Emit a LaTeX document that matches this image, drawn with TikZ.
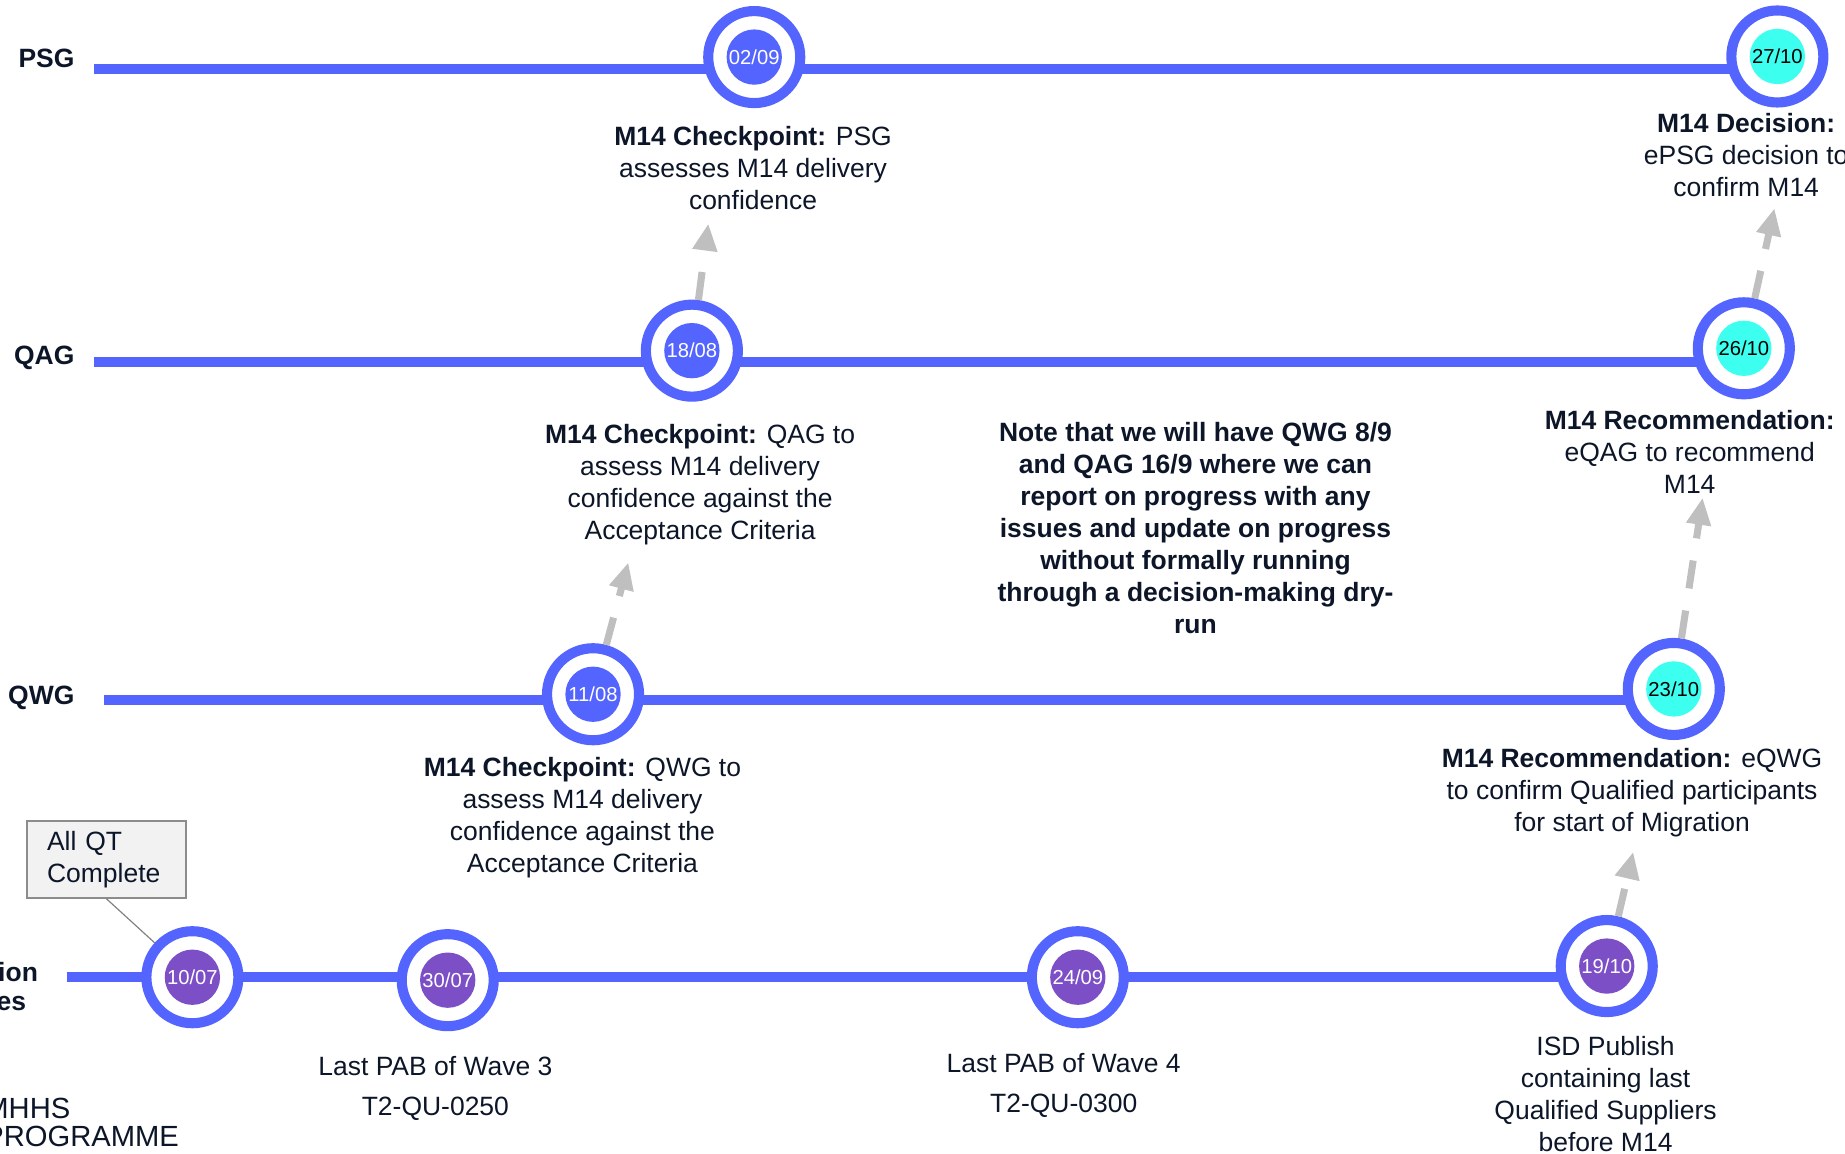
\documentclass[tikz,border=0pt]{standalone}
\usepackage{fontspec}
\setmainfont{Liberation Sans}
\usetikzlibrary{arrows.meta}

\definecolor{lineblue}{RGB}{84,101,255}
\definecolor{dotcyan}{RGB}{60,255,240}
\definecolor{dotpurple}{RGB}{124,79,198}
\definecolor{arrowgrey}{RGB}{191,191,191}
\definecolor{boxgrey}{RGB}{242,242,242}
\definecolor{edgegrey}{RGB}{140,140,140}
\definecolor{inknavy}{RGB}{12,22,40}

\tikzset{every picture/.style={line width=0.75pt}}
\tikzset{
	track/.style={draw=lineblue, line width=4.2pt},
	milestone/.style={circle, draw=lineblue, fill=white, line width=4.3pt, minimum size=39.1pt, inner sep=0pt, font=\fontsize{8.6}{10}\selectfont},
	inner dot/.style={path picture={\fill[#1] (path picture bounding box.center) circle (11.75pt);}},
	ms blue/.style={milestone, inner dot=lineblue, text=white},
	ms cyan/.style={milestone, inner dot=dotcyan, text=black},
	ms purple/.style={milestone, inner dot=dotpurple, text=white},
	caption/.style={text=inknavy, align=center, inner sep=0pt, font=\fontsize{11.25}{13.6}\selectfont},
	rowlabel/.style={caption, anchor=east, font=\fontsize{11.25}{13.6}\selectfont\bfseries},
	feed/.style={draw=arrowgrey, line width=3pt, dash pattern=on 12pt off 9.5pt, -{Triangle[width=10pt,length=11.5pt]}},
	callout/.style={draw=edgegrey, fill=boxgrey, line width=0.85pt, text=inknavy, align=left, inner xsep=8.5pt, text width=50.5pt, minimum height=32.5pt, font=\fontsize{11.25}{13.5}\selectfont},
	calloutline/.style={draw=gray, line width=0.5pt}
}

\begin{document}
\begin{tikzpicture}[x=0.5pt,y=0.5pt,yscale=-1,xscale=1]
	\useasboundingbox (0,0) rectangle (1568,980);

	% Track ends
	\coordinate (psgA) at (80,59);
	\coordinate (psgB) at (1510,59);
	\coordinate (qagA) at (80,308);
	\coordinate (qagB) at (1482,308);
	\coordinate (qwgA) at (88,595);
	\coordinate (qwgB) at (1422,595);
	\coordinate (misA) at (57,830);
	\coordinate (misB) at (1365,830);

	%Straight Lines
	\draw[track] (psgA) -- (psgB);
	\draw[track] (qagA) -- (qagB);
	\draw[track] (qwgA) -- (qwgB);
	\draw[track] (misA) -- (misB);

	%Shape: Circle
	\node[ms blue] (d0209) at (641,48.5) {02/09};
	\node[ms cyan] (d2710) at (1510.5,48) {27/10};
	\node[ms blue] (d1808) at (588,298) {18/08};
	\node[ms cyan] (d2610) at (1482,296) {26/10};
	\node[ms blue] (d1108) at (504,590) {11/08};
	\node[ms cyan] (d2310) at (1422.5,585.5) {23/10};
	\node[ms purple] (d1007) at (163.5,830.5) {10/07};
	\node[ms purple] (d3007) at (380.5,833) {30/07};
	\node[ms purple] (d2409) at (916,830.5) {24/09};
	\node[ms purple] (d1910) at (1365.5,821) {19/10};

	% Text Node
	\node[rowlabel] (psg) at (64,50) {PSG};
	% Text Node
	\node[rowlabel] (qag) at (64,304) {QAG};
	% Text Node
	\node[rowlabel] (qwg) at (64,593) {QWG};
	% Text Node
	\node[rowlabel] (ion) at (33,826) {ion};
	% Text Node
	\node[rowlabel] (es) at (23,853) {es};
	% Text Node
	\node[anchor=west, align=left, text=inknavy, inner sep=0pt, font=\fontsize{12.4}{12}\selectfont] (logo) at (-14,954) {MHHS\\PROGRAMME};

	% Text Node
	\node[caption] (t0209) at (640,143) {\textbf{M14 Checkpoint:} PSG\\assesses M14 delivery\\confidence};
	% Text Node
	\node[caption] (t2710) at (1484,132) {\textbf{M14 Decision:}\\ePSG decision to\\confirm M14};
	% Text Node
	\node[caption] (t1808) at (595,411.5) {\textbf{M14 Checkpoint:} QAG to\\assess M14 delivery\\confidence against the\\Acceptance Criteria};
	% Text Node
	\node[caption, font=\fontsize{11.25}{13.6}\selectfont\bfseries] (note) at (1016,448.5) {Note that we will have QWG 8/9\\and QAG 16/9 where we can\\report on progress with any\\issues and update on progress\\without formally running\\through a decision-making dry-\\run};
	% Text Node
	\node[caption] (t2610) at (1436,384) {\textbf{M14 Recommendation:}\\eQAG to recommend\\M14};
	% Text Node
	\node[caption] (t1108) at (495,695) {\textbf{M14 Checkpoint:} QWG to\\assess M14 delivery\\confidence against the\\Acceptance Criteria};
	% Text Node
	\node[caption] (t2310) at (1387,674) {\textbf{M14 Recommendation:} eQWG\\to confirm Qualified participants\\for start of Migration};
	% Text Node
	\node[caption] (t3007) at (370,925) {Last PAB of Wave 3\\[3.4pt]T2-QU-0250};
	% Text Node
	\node[caption] (t2409) at (904,922.5) {Last PAB of Wave 4\\[3.4pt]T2-QU-0300};
	% Text Node
	\node[caption] (t1910) at (1364.5,930) {ISD Publish\\containing last\\Qualified Suppliers\\before M14};

	% Arrow tips
	\coordinate (tipA) at (602,190);
	\coordinate (tipB) at (534,478);
	\coordinate (tipC) at (1508,177);
	\coordinate (tipD) at (1447,423);
	\coordinate (tipE) at (1388,724);
	%Straight Lines
	\draw[feed] (d1808) -- (tipA);
	\draw[feed] (d1108) -- (tipB);
	\draw[feed] (d2610) -- (tipC);
	\draw[feed] (d2310) -- (tipD);
	\draw[feed] (d1910) -- (tipE);

	%Shape: Rectangle
	\node[callout] (allqt) at (90.5,730.5) {All QT\\Complete};
	\draw[calloutline] (allqt.south) -- (d1007);

\end{tikzpicture}
\end{document}
